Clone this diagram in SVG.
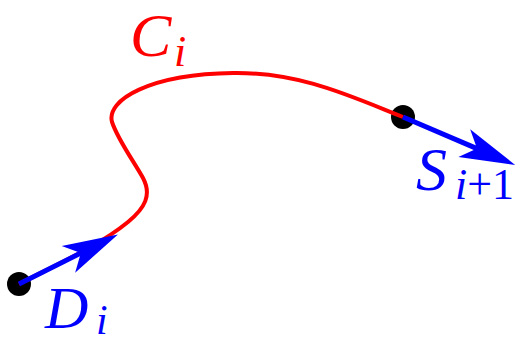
<svg xmlns="http://www.w3.org/2000/svg" width="519" height="343" viewBox="0 0 519 343">
  <style>
    .dot { fill: #000; }
    .curve { fill: none; stroke: #ff0000; stroke-width: 4; stroke-linecap: butt; }
    .vec { fill: none; stroke: #0000ff; stroke-width: 5; stroke-linecap: butt; }
    .lbl { font-family: "Liberation Serif", "DejaVu Serif", serif; font-style: italic; }
    .up { font-style: normal; }
    .red { fill: #ff0000; }
    .blue { fill: #0000ff; }
  </style>
  <defs>
    <marker id="stealth" markerUnits="userSpaceOnUse" markerWidth="60" markerHeight="40" viewBox="-14 -15 52 30" refX="0" refY="0" orient="auto" overflow="visible">
      <path d="M36,0 L-12,-13 L0,0 L-12,13 Z" fill="#0000ff"/>
    </marker>
  </defs>
  <rect width="519" height="343" fill="#fff"/>
  <g id="node-start">
    <circle class="dot" cx="19" cy="284" r="12"/>
  </g>
  <g id="node-end">
    <circle class="dot" cx="403" cy="117" r="12"/>
  </g>
  <g id="connectors">
    <path id="curve-Ci" class="curve" d="M19,284 C60,263 100,245 128,222 C145,208 152,195 143,178 C133,160 118,140 112,122 C106,100 150,74 233,73 C300,72 350,96 403,117"/>
    <path id="vec-Di" class="vec" d="M19,284 L80.8,253.1" marker-end="url(#stealth)"/>
    <path id="vec-Si1" class="vec" d="M403,117 L477,148.6" marker-end="url(#stealth)"/>
  </g>
  <g id="label-Ci">
    <text class="lbl red" x="130" y="56" font-size="62">C</text>
    <text class="lbl red" x="174" y="66" font-size="44">i</text>
  </g>
  <g id="label-Di">
    <text class="lbl blue" x="45" y="328" font-size="60">D</text>
    <text class="lbl blue" x="96" y="334" font-size="42">i</text>
  </g>
  <g id="label-Si1">
    <text class="lbl blue" x="416" y="190" font-size="62">S</text>
    <text class="lbl blue" x="455" y="199" font-size="44">i<tspan class="up">+1</tspan></text>
  </g>
</svg>
